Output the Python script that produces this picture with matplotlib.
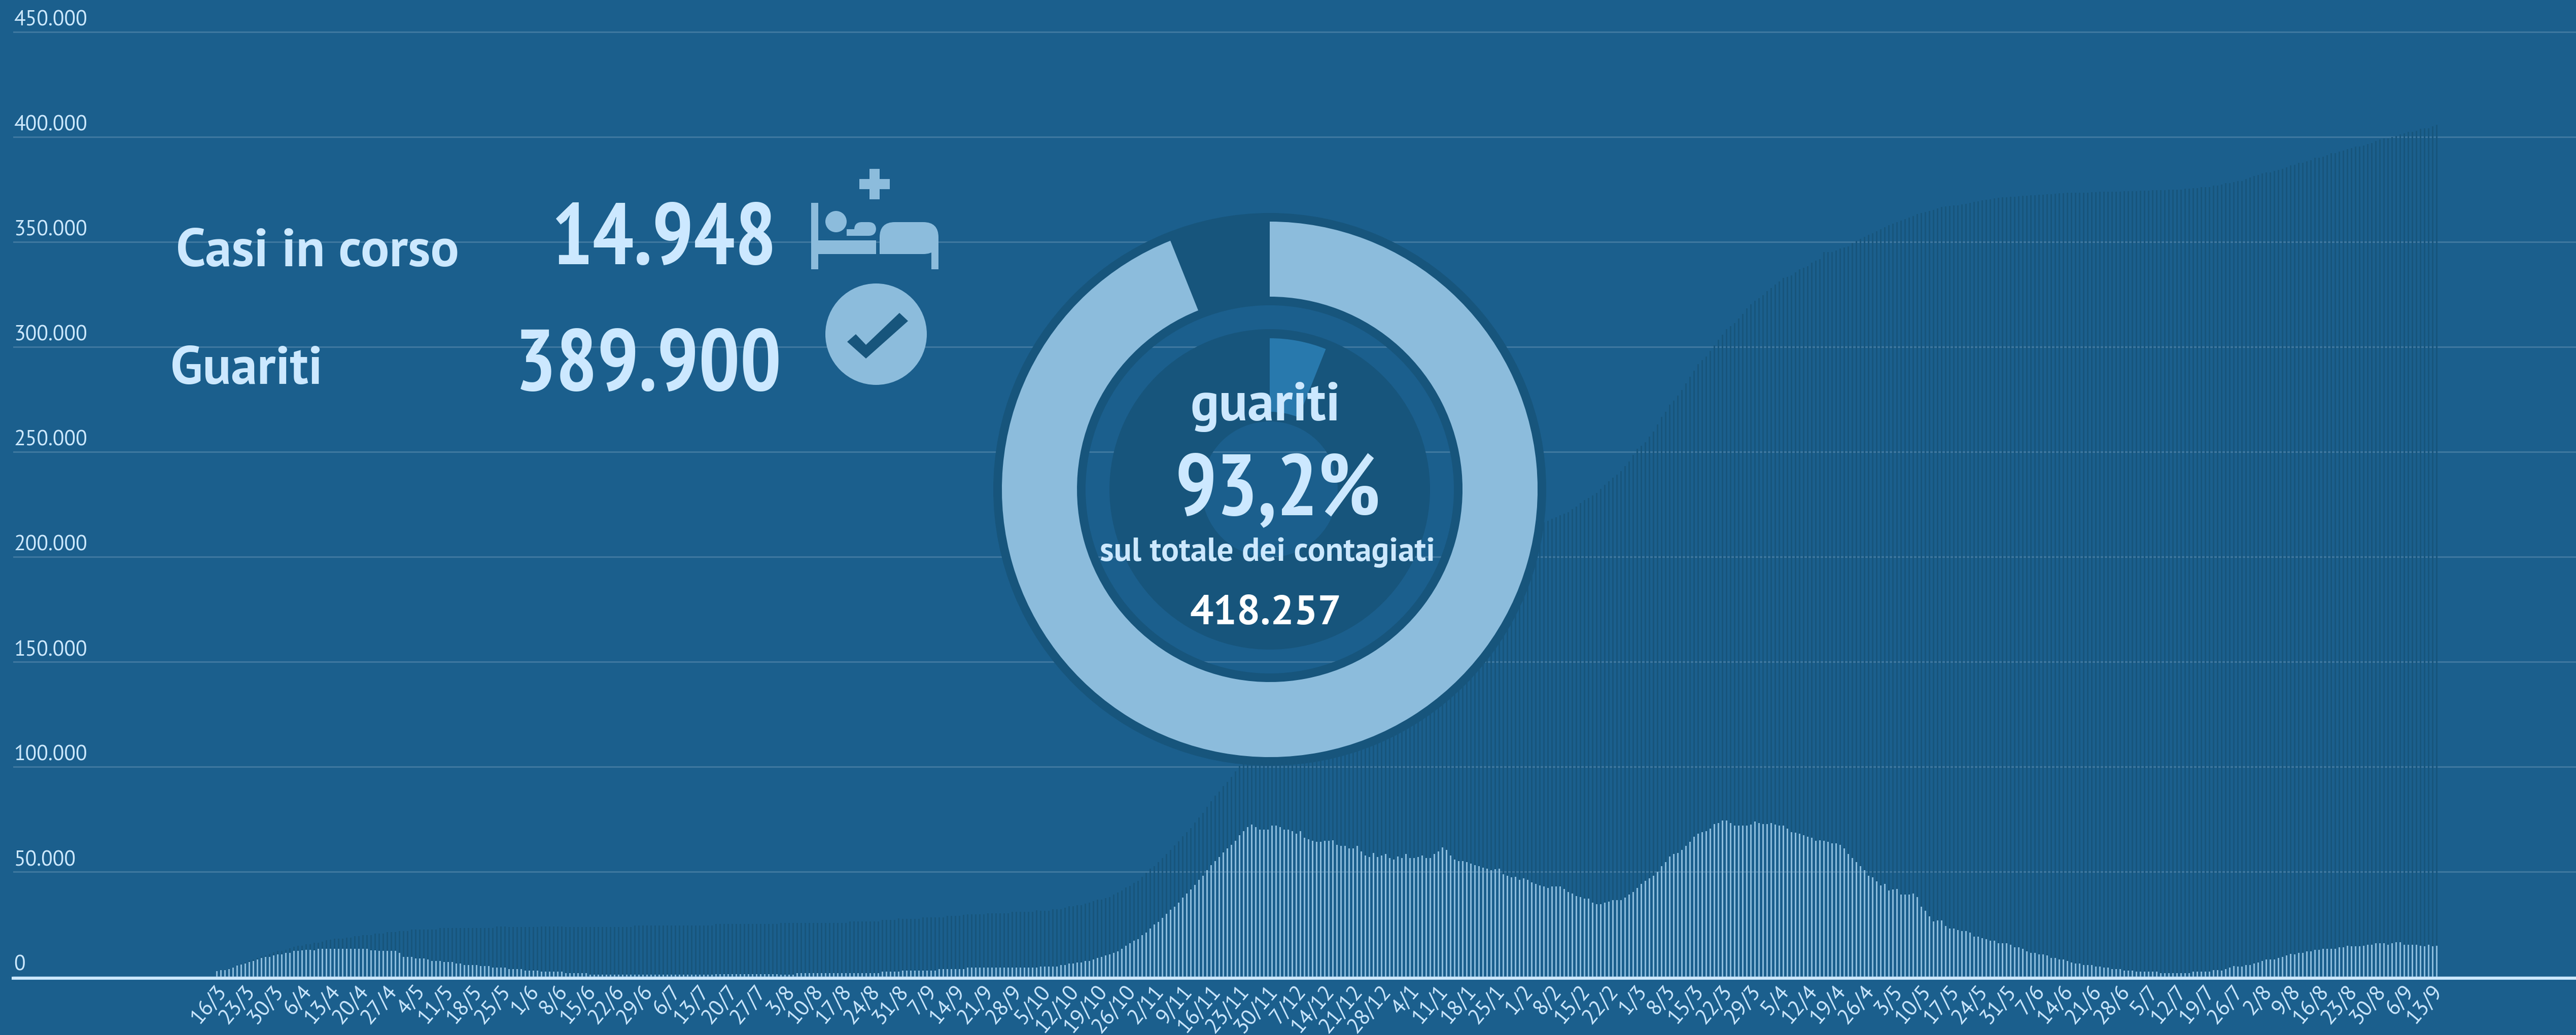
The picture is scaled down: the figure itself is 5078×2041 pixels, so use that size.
import numpy as np
import matplotlib
matplotlib.use("Agg")
import matplotlib.pyplot as plt
from matplotlib.patches import Circle, Wedge, Rectangle, Polygon, FancyBboxPatch
from matplotlib.transforms import ScaledTranslation

# values in thousands, one bar per day
totale_k = [
    2.7,3.3,3.3,3.9,4.6,5.3,6.1,6.8,7.8,8.3,
    8.9,9.7,10.2,10.9,11.7,12.2,12.2,12.9,13.6,14.3,
    14.8,14.8,15.5,15.5,16.1,16.1,16.7,17.5,17.7,18.0,
    18.0,18.0,18.7,18.7,19.4,19.4,19.9,19.9,19.9,20.6,
    20.6,20.6,21.3,21.3,21.3,21.8,21.8,21.8,22.5,22.5,
    22.5,22.5,22.5,22.5,22.5,23.3,23.3,23.3,23.3,23.3,
    23.2,23.2,23.2,23.2,23.2,23.2,23.2,23.2,23.2,23.9,
    23.9,23.9,23.7,23.7,23.7,23.7,23.7,23.7,23.7,23.7,
    23.9,23.9,23.9,23.9,23.9,23.9,23.7,23.7,23.7,23.7,
    23.7,23.7,23.7,23.7,23.7,23.7,23.7,23.7,23.7,23.7,
    23.7,23.7,23.7,24.4,24.4,24.4,24.4,24.4,24.4,24.4,
    24.4,24.4,24.4,24.4,24.4,24.4,24.4,24.4,24.4,24.4,
    24.4,24.4,24.4,25.1,25.1,25.1,25.1,25.1,25.1,25.1,
    25.1,25.1,25.1,25.1,25.1,25.1,25.1,25.1,25.1,25.6,
    25.6,25.6,25.6,25.6,25.6,25.6,25.6,25.6,25.6,25.6,
    25.6,25.6,25.6,25.6,25.6,25.6,26.3,26.3,26.3,26.3,
    26.3,26.3,26.3,26.3,27.0,27.0,27.0,27.0,27.8,27.5,
    27.5,27.5,27.5,27.5,28.3,28.3,28.3,28.3,28.3,28.3,
    29.0,29.0,29.0,29.0,29.5,29.7,29.7,29.7,29.7,29.7,
    30.2,30.2,30.2,30.2,30.2,30.2,30.9,30.9,30.9,30.9,
    30.9,30.9,31.6,31.4,31.4,31.4,32.1,32.1,32.1,32.8,
    33.6,33.6,34.1,34.1,34.8,35.3,36.0,36.7,36.7,37.4,
    37.9,39.1,
    40.0,41.1,42.5,43.3,44.8,45.7,47.6,49.5,51.5,52.7,
    54.6,56.6,58.5,60.4,62.5,64.5,66.9,68.9,70.8,73.5,
    75.9,77.9,81.0,83.6,86.2,88.1,90.8,92.7,95.2,97.9,100.5,
    # under the donut, estimated
    102.5,104.6,106.4,108.4,110.1,112.2,113.8,115.7,117.3,119.1,
    120.6,122.4,123.9,125.6,127.2,128.9,130.3,132.0,133.4,135.1,
    136.7,138.2,139.8,141.1,142.7,144.1,145.6,147.0,148.6,150.0,
    151.5,152.8,154.4,155.7,157.3,158.6,160.2,161.6,163.1,164.5,
    166.0,167.4,169.0,170.4,172.0,173.4,175.0,176.5,178.0,179.6,
    181.1,182.8,184.4,185.9,187.6,189.1,190.8,192.4,194.1,195.7,
    197.4,199.0,200.7,202.3,204.0,205.6,207.2,208.8,210.3,211.8,
    213.1,214.3,215.2,215.9,216.5,
    217.2,218.0,218.9,219.7,220.5,221.3,222.7,224.0,225.5,227.0,
    228.1,229.3,230.4,232.3,234.2,235.9,237.6,239.2,240.9,243.2,
    245.5,248.5,251.4,253.0,254.7,257.2,259.7,263.1,266.6,269.2,
    272.5,274.4,276.9,279.5,282.6,285.8,288.6,291.9,293.6,295.4,
    298.0,300.8,303.3,305.8,308.5,309.9,311.3,313.5,315.7,318.3,
    320.2,322.1,323.3,324.6,326.5,328.0,329.6,331.2,332.9,333.4,
    334.0,335.5,337.0,337.7,338.5,340.1,341.0,341.8,345.1,345.1,
    345.2,346.0,346.8,347.3,347.9,349.6,350.5,351.5,352.4,353.4,
    354.2,355.1,356.0,357.0,357.9,358.6,359.4,360.1,360.8,361.5,
    362.4,363.4,363.8,364.3,364.7,365.1,365.9,366.7,366.9,367.1,
    367.3,367.5,367.9,368.2,368.6,369.0,369.4,369.7,370.1,370.4,
    370.8,371.1,371.2,371.3,371.4,371.5,371.7,371.9,372.0,372.2,
    372.3,372.4,372.5,372.6,372.8,373.0,373.1,373.3,373.4,373.4,
    373.4,373.4,373.4,373.5,373.6,373.7,373.8,373.9,373.9,374.0,
    374.0,374.0,374.1,374.1,374.2,374.2,374.3,374.4,374.5,374.7,
    374.7,374.7,374.7,374.8,374.8,374.8,
    374.8,375.3,375.3,375.5,375.5,376.0,376.0,376.0,376.7,376.7,
    377.2,377.9,377.9,378.6,379.1,379.1,379.9,380.6,381.3,381.8,
    382.5,383.2,383.2,383.7,384.4,384.9,385.6,386.4,386.8,387.6,
    387.6,388.3,389.0,390.2,390.2,390.7,391.4,392.2,392.2,392.9,
    393.4,394.1,394.6,395.3,395.3,396.0,396.5,397.2,398.0,398.7,
    399.2,399.2,399.9,400.4,401.1,401.8,402.3,402.3,403.0,403.8,
    404.2,404.2,405.0,405.7,
]

in_corso_k = [
    2.6,3.2,3.2,3.7,4.4,5.2,5.9,6.4,7.1,7.6,
    8.3,9.0,9.5,9.5,10.2,10.7,10.7,11.4,11.4,12.2,
    12.2,12.6,12.9,12.9,12.6,13.4,13.4,13.4,13.4,13.4,
    13.4,13.4,13.4,13.4,13.4,13.4,13.4,13.4,12.6,12.6,
    12.2,12.2,12.2,12.2,12.2,11.4,9.5,9.5,9.5,8.8,
    8.8,8.8,8.3,7.6,7.6,7.6,7.1,7.1,7.1,6.4,
    6.3,5.6,5.6,5.6,5.6,5.1,5.1,5.1,4.3,4.3,
    4.3,4.3,3.6,3.6,3.6,3.6,2.9,2.9,2.9,2.9,
    2.4,2.4,2.4,2.4,2.4,2.4,1.7,1.7,1.7,1.7,
    1.7,1.7,1.0,1.0,1.0,1.0,1.0,1.0,1.0,1.0,
    1.0,1.0,1.0,1.0,1.0,1.0,1.0,1.0,1.0,1.0,
    1.0,1.0,1.0,1.0,1.0,1.0,1.0,1.0,1.0,1.0,
    1.0,1.0,1.0,1.2,1.2,1.2,1.2,1.2,1.2,1.2,
    1.2,1.2,1.2,1.2,1.2,1.2,1.2,1.2,1.2,1.0,
    1.0,1.0,1.0,1.7,1.7,1.7,1.7,1.7,1.7,1.7,
    1.7,1.7,1.7,1.7,1.7,1.7,1.7,1.7,1.7,1.7,
    1.7,1.7,1.7,1.7,2.4,2.4,2.4,2.4,2.4,2.9,
    2.9,2.9,2.9,2.9,2.9,2.9,2.9,2.9,3.6,3.6,
    3.6,3.6,3.6,3.6,3.6,4.3,4.3,4.3,4.3,4.3,
    4.3,4.3,4.3,4.3,4.3,4.3,4.3,4.3,4.3,4.3,
    4.3,4.3,4.3,4.8,4.8,4.8,4.8,4.8,5.6,5.6,
    6.3,6.3,6.8,6.8,7.5,7.5,8.2,8.9,9.4,10.1,
    10.6,11.4,
    12.1,13.3,14.7,16.0,17.2,17.9,19.8,21.0,22.9,24.9,
    26.1,28.1,30.0,31.9,33.3,35.2,37.7,39.7,41.6,43.7,
    46.1,48.1,50.7,53.2,55.1,56.9,59.2,61.2,62.8,64.7,
    67.4,69.3,71.2,72.5,71.2,70.0,70.0,70.0,72.0,72.0,
    71.2,70.0,70.0,69.3,68.1,69.3,66.2,65.4,64.7,64.2,
    64.2,64.7,64.7,65.0,62.8,62.3,62.3,61.2,61.2,62.3,
    59.7,57.7,57.0,59.0,57.0,57.7,58.5,56.6,55.8,57.2,
    56.6,58.5,56.6,56.6,57.0,57.7,56.6,56.6,58.5,59.7,
    61.6,60.4,57.7,55.8,55.1,55.1,54.6,53.9,53.2,52.7,
    51.9,51.4,50.7,51.2,51.4,48.7,48.1,47.3,47.6,46.1,
    46.9,46.1,44.9,44.2,43.5,43.0,42.3,43.0,43.0,43.0,
    41.8,40.3,39.6,38.4,37.9,37.2,37.2,35.3,34.5,34.5,
    35.3,35.7,36.5,36.5,36.5,37.7,39.1,40.3,42.3,44.2,
    45.6,46.9,48.1,50.0,52.6,54.6,57.2,58.4,58.9,60.4,
    62.3,64.2,66.7,68.1,68.8,69.3,70.5,72.7,73.2,74.4,
    74.4,73.2,72.0,72.0,72.0,72.0,72.5,73.9,73.2,72.7,
    72.7,73.2,72.5,72.0,72.0,70.5,68.8,68.6,68.1,67.4,
    66.7,66.2,64.7,65.0,64.7,64.2,63.5,63.5,62.8,61.1,
    58.4,56.5,54.6,52.6,50.7,48.1,47.3,
    45.4,43.5,44.2,41.1,41.5,41.8,39.1,39.1,39.1,39.6,
    37.9,33.3,31.4,28.7,26.3,26.8,26.8,24.2,22.9,22.9,
    22.2,21.7,21.7,21.0,19.1,19.1,18.4,17.9,17.1,17.1,
    15.9,15.9,15.9,15.2,14.0,14.0,13.3,12.1,11.4,11.4,
    10.6,10.6,10.1,8.9,8.9,8.2,8.2,7.5,6.8,6.3,
    6.3,5.6,5.6,5.6,4.8,4.8,4.3,4.3,3.6,3.6,
    3.6,2.9,2.9,2.9,2.4,2.4,2.4,2.4,2.4,2.4,
    1.7,1.7,1.7,1.7,1.7,1.7,1.7,1.7,
    2.4,2.4,2.4,2.4,2.4,
    3.1,3.1,2.9,3.6,4.3,5.1,4.8,4.8,5.6,5.6,
    6.3,6.8,7.5,8.2,8.2,8.2,8.9,9.4,10.1,10.9,
    10.6,11.4,11.4,12.1,12.1,12.8,12.8,13.3,13.3,13.3,
    13.3,14.0,14.0,14.7,14.5,14.5,14.5,14.7,15.2,15.2,
    15.9,15.9,15.9,15.2,15.9,16.4,16.4,15.2,15.2,15.2,
    15.2,14.7,14.5,15.2,14.5,14.7,
]

date_labels = [
    "16/3","23/3","30/3","6/4","13/4","20/4","27/4","4/5","11/5","18/5","25/5",
    "1/6","8/6","15/6","22/6","29/6","6/7","13/7","20/7","27/7","3/8","10/8",
    "17/8","24/8","31/8","7/9","14/9","21/9","28/9","5/10","12/10","19/10",
    "26/10","2/11","9/11","16/11","23/11","30/11","7/12","14/12","21/12","28/12",
    "4/1","11/1","18/1","25/1","1/2","8/2","15/2","22/2","1/3","8/3","15/3",
    "22/3","29/3","5/4","12/4","19/4","26/4","3/5","10/5","17/5","24/5","31/5",
    "7/6","14/6","21/6","28/6","5/7","12/7","19/7","26/7","2/8","9/8","16/8",
    "23/8","30/8","6/9","13/9",
]
y_ticks_k = [0, 50, 100, 150, 200, 250, 300, 350, 400, 450]
y_labels = ["0", "50.000", "100.000", "150.000", "200.000", "250.000", "300.000", "350.000", "400.000", "450.000"]
donut_shares = [93.95, 6.05]

BG = "#1b5f8d"
DARK = "#17557c"
LIGHT = "#8cbcdc"
TEXT = "#cce8ff"
GRID = "#3f78a0"
WEDGE = "#2879ad"

W, H = 5078, 2041
narrow = ["PT Sans Narrow", "Liberation Sans", "Lato"]
regular = ["PT Sans", "Lato"]

fig = plt.figure(figsize=(W / 100, H / 100), dpi=100, facecolor=BG)

# main chart, axes bottom sits on the zero line
base_y = 1926
left = 26
ax = fig.add_axes([left / W, (H - base_y) / H, (W - left) / W, base_y / H], facecolor=BG)
ax.set_xlim((left - 427.6) / 8, (W - 427.6) / 8)
ax.set_ylim(0, base_y * 50 / 207)

x = np.arange(len(totale_k))
x2 = np.arange(len(in_corso_k))
ax.bar(x, totale_k, width=0.4, color=DARK, linewidth=0, zorder=2)
ax.bar(x2, in_corso_k, width=0.36, color=LIGHT, linewidth=0, zorder=3)

ax.set_axisbelow(True)
ax.grid(axis="y", color=GRID, linewidth=2.2)
for s in ["top", "left", "right"]:
    ax.spines[s].set_visible(False)
ax.spines["bottom"].set_color(TEXT)
ax.spines["bottom"].set_linewidth(4.3)
ax.spines["bottom"].set_position(("outward", 2.2))

ax.set_yticks(y_ticks_k)
ax.set_yticklabels(y_labels, fontsize=30, color=TEXT, family=regular, ha="left", va="bottom")
ax.tick_params(axis="y", length=0, pad=-1)
up = ScaledTranslation(0, 3 / 100, fig.dpi_scale_trans)
for lab in ax.get_yticklabels():
    lab.set_transform(lab.get_transform() + up)

ax.set_xticks(x[::7][:len(date_labels)])
ax.set_xticklabels(date_labels, fontsize=31, color=TEXT, family=regular,
                   rotation=50, ha="right", va="center", rotation_mode="anchor")
ax.tick_params(axis="x", length=0, pad=14.5)
shift = ScaledTranslation(12 / 100, 0, fig.dpi_scale_trans)
for lab in ax.get_xticklabels():
    lab.set_transform(lab.get_transform() + shift)

# overlay in pixel coordinates for headline numbers and icons
ov = fig.add_axes([0, 0, 1, 1], facecolor="none")
ov.set_xlim(0, W)
ov.set_ylim(H, 0)
ov.axis("off")

bold = dict(family=narrow, weight="bold", color=TEXT, va="baseline")
bold2 = dict(family=regular, weight="bold", color=TEXT, va="baseline")
ov.text(347, 525, "Casi in corso", fontsize=75.5, ha="left", **bold2)
ov.text(336, 757, "Guariti", fontsize=75, ha="left", **bold2)
ov.text(1531, 521, "14.948", fontsize=123, ha="right", **bold)
ov.text(1541, 770, "389.900", fontsize=123, ha="right", **bold)

# bed icon
ov.add_patch(Rectangle((1599, 400), 14, 131, color=LIGHT, lw=0))
ov.add_patch(Rectangle((1599, 474), 128, 27, color=LIGHT, lw=0))
ov.add_patch(Circle((1648, 437), 21, color=LIGHT, lw=0))
ov.add_patch(FancyBboxPatch((1684, 438), 43, 27, boxstyle="round,pad=0,rounding_size=15", color=LIGHT, lw=0))
ov.add_patch(Rectangle((1669, 452), 30, 13, color=LIGHT, lw=0))
ov.add_patch(FancyBboxPatch((1734, 438), 116, 63, boxstyle="round,pad=0,rounding_size=30", color=LIGHT, lw=0))
ov.add_patch(Rectangle((1734, 470), 60, 31, color=LIGHT, lw=0))
ov.add_patch(Rectangle((1836, 470), 14, 61, color=LIGHT, lw=0))
ov.add_patch(Rectangle((1714, 333), 20, 60, color=LIGHT, lw=0))
ov.add_patch(Rectangle((1694, 353), 60, 20, color=LIGHT, lw=0))

# check icon
ov.add_patch(Circle((1727, 659), 100, color=LIGHT, lw=0))
ov.add_patch(Polygon([(1773, 617), (1790, 633), (1707, 707), (1670, 674), (1687, 659), (1707, 680)],
                     closed=True, color=DARK, lw=0))

# donut, radii in pixels
cx, cy = 2503, 965
d = fig.add_axes([(cx - 560) / W, (H - cy - 560) / H, 1120 / W, 1120 / H], facecolor="none")
d.add_patch(Wedge((0, 0), 545, 0, 360, width=182, color=DARK, lw=0))
d.add_patch(Wedge((0, 0), 316, 0, 360, width=182, color=DARK, lw=0))
d.pie(donut_shares, radius=528, startangle=90, counterclock=False, colors=[LIGHT, "none"],
      wedgeprops=dict(width=148, linewidth=0))
d.pie(donut_shares[::-1], radius=298, startangle=90, counterclock=False, colors=[WEDGE, "none"],
      wedgeprops=dict(width=145, linewidth=0))
d.set_xlim(-560, 560)
d.set_ylim(-560, 560)
d.axis("off")

ov2 = fig.add_axes([0, 0, 1, 1], facecolor="none")
ov2.set_xlim(0, W)
ov2.set_ylim(H, 0)
ov2.axis("off")
ov2.text(2494, 829, "guariti", fontsize=76, ha="center", **bold2)
ov2.text(2519, 1015, "93,2%", fontsize=123, ha="center", **bold)
ov2.text(2498, 1106, "sul totale dei contagiati", fontsize=47, ha="center", **bold2)
ov2.text(2495, 1231, "418.257", fontsize=59, ha="center", family=regular, weight="bold", color="white", va="baseline")

fig.savefig("out.png", dpi=100, facecolor=BG)
